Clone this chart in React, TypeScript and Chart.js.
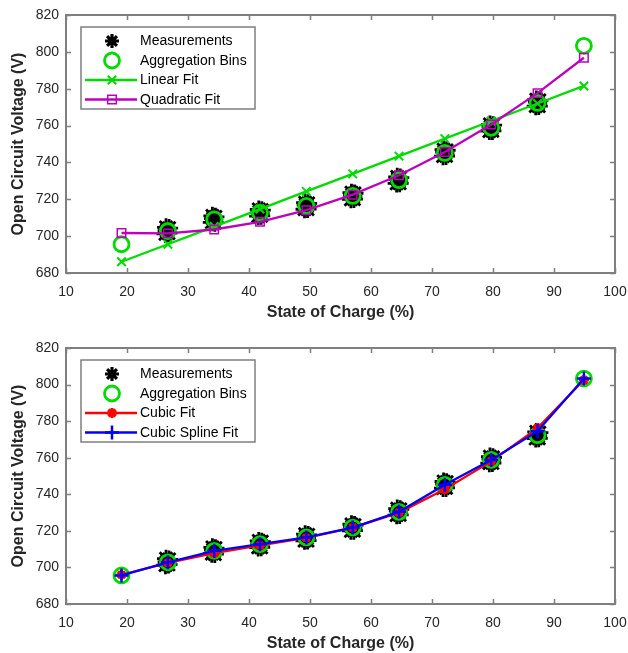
import React, { useEffect, useRef } from 'react';
import { Chart, registerables } from 'chart.js';

Chart.register(...registerables);

// ---------------- data ----------------
const binSOC = [19.1, 26.7, 34.3, 41.8, 49.4, 57.0, 64.6, 72.1, 79.7, 87.3, 94.9];
const binOCV = [695.6, 702.8, 709.1, 712.7, 716.4, 721.8, 730.4, 745.2, 758.8, 772.3, 803.3];

const linearFit = [686.1, 695.6, 705.2, 714.7, 724.3, 733.8, 743.4, 752.9, 762.5, 772.0, 781.5];
const quadraticFit = [701.7, 701.5, 703.6, 707.8, 714.1, 722.5, 733.0, 745.7, 760.6, 777.6, 796.8];
const cubicFit = [696.0, 702.5, 707.8, 712.0, 716.2, 721.8, 730.0, 742.8, 758.0, 776.2, 802.5];
const splineFit = [695.6, 702.8, 709.1, 712.7, 716.4, 721.8, 730.4, 745.2, 758.8, 774.5, 803.3];

const measSOC = [
  26.3, 26.9, 26.5, 26.8, 26.4, 26.6,
  33.9, 34.5, 34.1, 34.4, 34.0, 34.3,
  41.5, 42.1, 41.7, 42.0, 41.6, 41.9,
  49.1, 49.7, 49.3, 49.6, 49.2, 49.5,
  56.7, 57.3, 56.9, 57.2, 56.8, 57.1,
  64.2, 64.8, 64.4, 64.7, 64.3, 64.6,
  71.8, 72.4, 72.0, 72.3, 71.9, 72.2,
  79.4, 80.0, 79.6, 79.9, 79.5, 79.8,
  87.0, 87.6, 87.2, 87.5, 87.1, 87.4,
];
const measOCV = [
  701.2, 704.4, 703.0, 701.6, 704.8, 702.6,
  707.5, 710.5, 709.5, 707.3, 711.0, 708.9,
  710.9, 714.1, 713.0, 711.0, 714.5, 712.4,
  714.6, 717.8, 716.8, 714.7, 718.2, 716.1,
  720.0, 723.2, 722.2, 720.1, 723.6, 721.5,
  728.6, 731.8, 730.8, 728.7, 732.2, 730.1,
  743.4, 746.6, 745.6, 743.5, 747.0, 744.9,
  757.0, 760.2, 759.2, 757.1, 760.6, 758.5,
  770.5, 773.7, 772.7, 770.6, 774.1, 772.0,
];

const xTitle = 'State of Charge (%)';
const yTitle = 'Open Circuit Voltage (V)';
const xMin = 10, xMax = 100, xStep = 10;
const yMin = 680, yMax = 820, yStep = 20;

// ---------------- styles ----------------
const FONT = "'Liberation Sans', Arial, Helvetica, sans-serif";
const AXIS = '#7f7f7f';
const TEXT = '#262626';
const GREEN = 'rgb(0,220,0)';
const MAGENTA = 'rgb(190,0,190)';
const RED = 'rgb(255,0,0)';
const BLUE = 'rgb(0,0,255)';

const pts = (xs: number[], ys: number[]) => xs.map((x, i) => ({ x, y: ys[i] }));

function drawMarker(ctx: CanvasRenderingContext2D, style: string, x: number, y: number, r: number, color: string, lw: number, fill?: string) {
  ctx.save();
  ctx.strokeStyle = color;
  ctx.lineWidth = lw;
  ctx.beginPath();
  const d = r * Math.SQRT1_2;
  if (style === 'circle') {
    ctx.arc(x, y, r, 0, Math.PI * 2);
    if (fill) { ctx.fillStyle = fill; ctx.fill(); }
    ctx.stroke();
  } else if (style === 'rect') {
    ctx.rect(x - d, y - d, 2 * d, 2 * d);
    if (fill) { ctx.fillStyle = fill; ctx.fill(); }
    ctx.stroke();
  } else {
    if (style === 'cross' || style === 'star') {
      ctx.moveTo(x - r, y); ctx.lineTo(x + r, y);
      ctx.moveTo(x, y - r); ctx.lineTo(x, y + r);
    }
    if (style === 'crossRot' || style === 'star') {
      ctx.moveTo(x - d, y - d); ctx.lineTo(x + d, y + d);
      ctx.moveTo(x - d, y + d); ctx.lineTo(x + d, y - d);
    }
    ctx.stroke();
  }
  ctx.restore();
}

const framePlugin = {
  id: 'matlabFrame',
  beforeDatasetsDraw(chart: any) {
    const { ctx, chartArea: a, scales } = chart;
    ctx.save();
    ctx.strokeStyle = AXIS;
    ctx.lineWidth = 1.5;
    const L = 5;
    ctx.beginPath();
    scales.x.ticks.forEach((t: any) => {
      const px = Math.round(scales.x.getPixelForValue(t.value)) + 0.5;
      ctx.moveTo(px, a.bottom); ctx.lineTo(px, a.bottom - L);
      ctx.moveTo(px, a.top); ctx.lineTo(px, a.top + L);
    });
    scales.y.ticks.forEach((t: any) => {
      const py = Math.round(scales.y.getPixelForValue(t.value)) + 0.5;
      ctx.moveTo(a.left, py); ctx.lineTo(a.left + L, py);
      ctx.moveTo(a.right, py); ctx.lineTo(a.right - L, py);
    });
    ctx.stroke();
    ctx.lineWidth = 2;
    ctx.strokeRect(a.left, a.top, a.right - a.left, a.bottom - a.top);
    ctx.restore();
  },
};

const legendPlugin = {
  id: 'matlabLegend',
  afterDatasetsDraw(chart: any) {
    const { ctx, chartArea: a } = chart;
    const x0 = a.left + 15, y0 = a.top + 12, w = 174, h = 82;
    ctx.save();
    ctx.fillStyle = '#ffffff';
    ctx.fillRect(x0, y0, w, h);
    ctx.strokeStyle = AXIS;
    ctx.lineWidth = 1.5;
    ctx.strokeRect(x0, y0, w, h);
    chart.data.datasets.forEach((ds: any, i: number) => {
      const cy = y0 + 14 + i * 19.5;
      const mx = x0 + 31;
      if (ds.showLine) {
        ctx.save();
        ctx.strokeStyle = ds.borderColor;
        ctx.lineWidth = ds.borderWidth;
        ctx.beginPath();
        ctx.moveTo(x0 + 4, cy); ctx.lineTo(x0 + 56, cy);
        ctx.stroke();
        ctx.restore();
      }
      const lg = ds.legendMarker;
      drawMarker(ctx, ds.pointStyle, mx, cy, lg.r, ds.pointBorderColor, lg.lw, lg.fill);
      ctx.fillStyle = '#000';
      ctx.font = `14px ${FONT}`;
      ctx.textBaseline = 'middle';
      ctx.textAlign = 'left';
      ctx.fillText(ds.label, x0 + 59, cy + 0.5);
    });
    ctx.restore();
  },
};

function makeConfig(datasets: any[], padTop: number) {
  return {
    type: 'scatter',
    data: { datasets },
    plugins: [framePlugin, legendPlugin],
    options: {
      animation: false,
      responsive: false,
      devicePixelRatio: 1,
      events: [],
      layout: { padding: { top: padTop, right: 13, left: 0, bottom: 0 } },
      plugins: { legend: { display: false }, tooltip: { enabled: false } },
      scales: {
        x: {
          type: 'linear',
          min: xMin, max: xMax,
          ticks: { stepSize: xStep, color: TEXT, font: { family: FONT, size: 14 }, padding: 11 },
          grid: { display: false, drawTicks: false },
          border: { display: false },
          title: { display: true, text: xTitle, color: TEXT, font: { family: FONT, size: 16, weight: 'bold' }, padding: { top: 0, bottom: 0 } },
          afterFit(scale: any) { scale.height = 49; scale.paddingLeft = 0; scale.paddingRight = 0; },
        },
        y: {
          type: 'linear',
          min: yMin, max: yMax,
          ticks: { stepSize: yStep, color: TEXT, font: { family: FONT, size: 14 }, padding: 7 },
          grid: { display: false, drawTicks: false },
          border: { display: false },
          title: { display: true, text: yTitle, color: TEXT, font: { family: FONT, size: 16, weight: 'bold' }, padding: { top: 9, bottom: 0 } },
          afterFit(scale: any) { scale.width = 66; scale.paddingTop = 0; scale.paddingBottom = 0; },
        },
      },
    },
  } as any;
}

function measurementsDataset() {
  return {
    label: 'Measurements',
    data: pts(measSOC, measOCV),
    showLine: false,
    pointStyle: 'star',
    pointRadius: 9,
    pointBorderWidth: 2.8,
    pointBorderColor: '#000000',
    pointBackgroundColor: '#000000',
    borderColor: '#000000',
    borderWidth: 0,
    order: 4,
    legendMarker: { r: 7, lw: 3.2 },
  };
}

function binsDataset() {
  return {
    label: 'Aggregation Bins',
    data: pts(binSOC, binOCV),
    showLine: false,
    pointStyle: 'circle',
    pointRadius: 7.5,
    pointBorderWidth: 2.8,
    pointBorderColor: GREEN,
    pointBackgroundColor: 'rgba(0,0,0,0)',
    borderColor: GREEN,
    borderWidth: 0,
    order: 3,
    legendMarker: { r: 7.5, lw: 2.8 },
  };
}

function fitDataset(label: string, ys: number[], color: string, style: string, r: number, pbw: number, order: number, fill?: string) {
  return {
    label,
    data: pts(binSOC, ys),
    showLine: true,
    borderColor: color,
    borderWidth: 2.3,
    pointStyle: style,
    pointRadius: r,
    pointBorderWidth: pbw,
    pointBorderColor: color,
    pointBackgroundColor: fill || 'rgba(0,0,0,0)',
    order,
    legendMarker: { r, lw: pbw, fill },
  };
}

function ChartCanvas({ datasets, padTop, height }: { datasets: any[]; padTop: number; height: number }) {
  const ref = useRef<HTMLCanvasElement | null>(null);
  useEffect(() => {
    if (!ref.current) return;
    const chart = new Chart(ref.current, makeConfig(datasets, padTop));
    return () => chart.destroy();
  }, []);
  return <canvas ref={ref} width={628} height={height} style={{ display: 'block', width: 628, height }} />;
}

export default function App() {
  const top = [
    measurementsDataset(),
    binsDataset(),
    fitDataset('Linear Fit', linearFit, GREEN, 'crossRot', 6, 2, 2),
    fitDataset('Quadratic Fit', quadraticFit, MAGENTA, 'rect', 6, 1.5, 1),
  ];
  const bottom = [
    measurementsDataset(),
    binsDataset(),
    fitDataset('Cubic Fit', cubicFit, RED, 'star', 5, 3, 2, RED),
    fitDataset('Cubic Spline Fit', splineFit, BLUE, 'cross', 7, 2.5, 1),
  ];
  return (
    <div style={{ position: 'absolute', left: 0, top: 0, width: 628, height: 653, background: '#fff' }}>
      <div style={{ position: 'absolute', left: 0, top: 0 }}>
        <ChartCanvas datasets={top} padTop={15} height={322} />
      </div>
      <div style={{ position: 'absolute', left: 0, top: 322 }}>
        <ChartCanvas datasets={bottom} padTop={26} height={331} />
      </div>
    </div>
  );
}
